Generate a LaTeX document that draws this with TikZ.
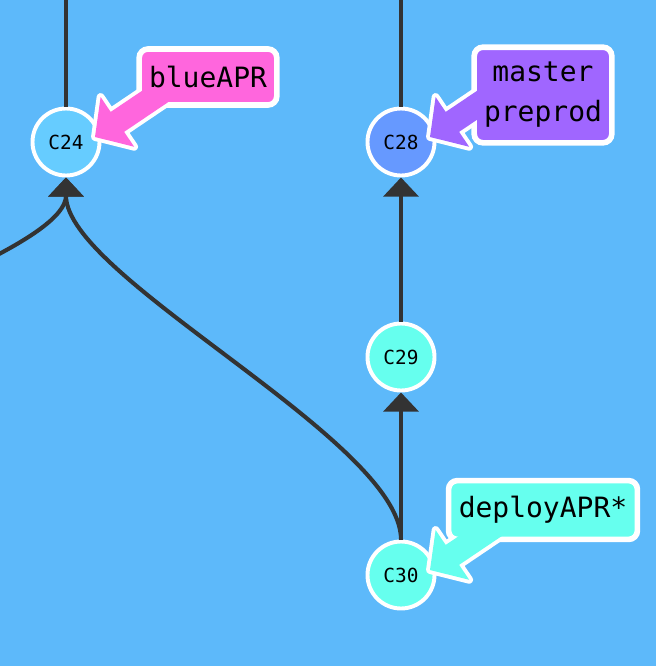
\documentclass[tikz,border=0pt]{standalone}
\usepackage{fontspec}
\setmonofont{DejaVu Sans Mono}
\usepackage{tikz}
\usetikzlibrary{arrows.meta}
\definecolor{bgblue}{RGB}{93,185,250}
\definecolor{edgegray}{RGB}{51,51,51}
\definecolor{skyfill}{RGB}{102,204,255}
\definecolor{periwinkle}{RGB}{102,153,255}
\definecolor{aquafill}{RGB}{102,255,238}
\definecolor{pinkfill}{RGB}{255,102,221}
\definecolor{purplefill}{RGB}{160,102,255}
\tikzset{
	commitstyle/.style={circle,draw=white,line width=2.8pt,minimum size=1.675cm,inner sep=0pt,font=\ttfamily\fontsize{13.8}{16}\selectfont},
	branchstyle/.style={rectangle,rounded corners=0.22cm,draw=white,line width=4pt,inner sep=0pt},
	labelstyle/.style={align=center,inner sep=0pt,font=\ttfamily\fontsize{19.9}{28.5}\selectfont},
	edgestyle/.style={draw=edgegray,line width=2.9pt},
	parentstyle/.style={edgestyle,-{Triangle[width=0.875cm,length=0.48cm]}},
	calloutline/.style={draw=white,line width=5.6pt,line join=round}
}
\begin{document}
\begin{tikzpicture}[x=0.025cm,y=-0.025cm]
		\useasboundingbox (0,0) rectangle (656,666);
		\fill[bgblue] (0,0) rectangle (656,666);
		\clip (0,0) rectangle (656,666);
		\node[commitstyle,fill=skyfill] (c24) at (66,142) {C24};
		\node[commitstyle,fill=periwinkle] (c28) at (401,142) {C28};
		\node[commitstyle,fill=aquafill] (c29) at (401,357) {C29};
		\node[commitstyle,fill=aquafill] (c30) at (401,575) {C30};
		\coordinate (c22) at (66,-80);
		\coordinate (c27) at (401,-80);
		\coordinate (c23) at (-568,540);
		\draw[edgestyle] (c24)--(c22);
		\draw[edgestyle] (c28)--(c27);
		\draw[parentstyle] (c29)--(c28);
		\draw[parentstyle] (c30)--(c29);
		\draw[parentstyle] (c30) .. controls (401,440) and (66,278) .. (c24);
		\draw[parentstyle] (c23) .. controls (-568,440) and (66,278) .. (c24);
		\path[calloutline,shift={(c24.center)},shift={(29,-5)},rotate=34] (0,0)--(27,-30)--(27,-12)--(95,-12)--(95,12)--(27,12)--(27,30)--cycle;
		\path[calloutline,shift={(c28.center)},shift={(29,-5)},rotate=34] (0,0)--(27,-30)--(27,-12)--(95,-12)--(95,12)--(27,12)--(27,30)--cycle;
		\path[calloutline,shift={(c30.center)},shift={(29,-5)},rotate=34] (0,0)--(27,-30)--(27,-12)--(95,-12)--(95,12)--(27,12)--(27,30)--cycle;
		\node[branchstyle,fill=pinkfill,minimum width=3.44cm,minimum height=1.40cm] (blueapr) at (208,77) {};
		\node[branchstyle,fill=purplefill,minimum width=3.44cm,minimum height=2.39cm] (master) at (543,95) {};
		\node[branchstyle,fill=aquafill,minimum width=4.72cm,minimum height=1.47cm] (deployapr) at (543,510) {};
		\fill[pinkfill,shift={(c24.center)},shift={(29,-5)},rotate=34] (0,0)--(27,-30)--(27,-12)--(95,-12)--(95,12)--(27,12)--(27,30)--cycle;
		\fill[purplefill,shift={(c28.center)},shift={(29,-5)},rotate=34] (0,0)--(27,-30)--(27,-12)--(95,-12)--(95,12)--(27,12)--(27,30)--cycle;
		\fill[aquafill,shift={(c30.center)},shift={(29,-5)},rotate=34] (0,0)--(27,-30)--(27,-12)--(95,-12)--(95,12)--(27,12)--(27,30)--cycle;
		\node[labelstyle] (blueapr text) at (blueapr) {blueAPR};
		\node[labelstyle] (master text) at (master) {master\\preprod};
		\node[labelstyle] (deployapr text) at (deployapr) {deployAPR*};
		\end{tikzpicture}
\end{document}
